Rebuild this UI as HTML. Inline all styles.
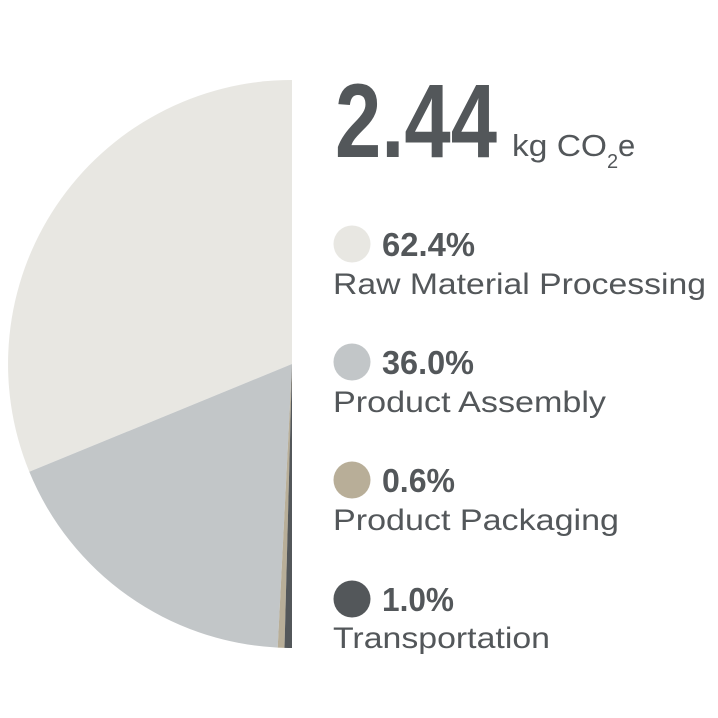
<!DOCTYPE html>
<html><head><meta charset="utf-8"><style>
html,body{margin:0;padding:0;background:#fff;}
svg{display:block;}
</style></head><body>
<svg width="718" height="718" viewBox="0 0 718 718" xmlns="http://www.w3.org/2000/svg" font-family="Liberation Sans, sans-serif" fill="#53575a">
<rect width="718" height="718" fill="#fff"/>
<path d="M292,364 L292,80 A284,284 0 0 0 29.3,471.8 Z" fill="#e8e7e2"/>
<path d="M292,364 L29.3,471.8 A284,284 0 0 0 277.7,647.6 Z" fill="#c2c6c8"/>
<path d="M292,364 L277.7,647.6 A284,284 0 0 0 284.5,647.9 Z" fill="#b8ae98"/>
<path d="M292,364 L284.5,647.9 A284,284 0 0 0 292,648 Z" fill="#53575a"/>
<text x="335" y="157" font-size="105" font-weight="bold" textLength="162" lengthAdjust="spacingAndGlyphs">2.44</text>
<text x="512" y="156" font-size="31" textLength="95" lengthAdjust="spacingAndGlyphs">kg CO</text>
<text x="607" y="168" font-size="20">2</text>
<text x="618" y="156" font-size="31">e</text>
<g>
<circle cx="352" cy="244" r="18.5" fill="#e8e7e2"/>
<text x="382" y="256" font-size="33" font-weight="bold" textLength="93" lengthAdjust="spacingAndGlyphs">62.4%</text>
<text x="333" y="294" font-size="30" textLength="373" lengthAdjust="spacingAndGlyphs">Raw Material Processing</text>
<circle cx="352" cy="362" r="18.5" fill="#c2c6c8"/>
<text x="382" y="374" font-size="33" font-weight="bold" textLength="92" lengthAdjust="spacingAndGlyphs">36.0%</text>
<text x="333" y="412" font-size="30" textLength="273" lengthAdjust="spacingAndGlyphs">Product Assembly</text>
<circle cx="352" cy="480" r="18.5" fill="#b8ae98"/>
<text x="382" y="492" font-size="33" font-weight="bold" textLength="73" lengthAdjust="spacingAndGlyphs">0.6%</text>
<text x="333" y="530" font-size="30" textLength="286" lengthAdjust="spacingAndGlyphs">Product Packaging</text>
<circle cx="352" cy="599" r="18.5" fill="#53575a"/>
<text x="382" y="611" font-size="33" font-weight="bold" textLength="72" lengthAdjust="spacingAndGlyphs">1.0%</text>
<text x="333" y="648" font-size="30" textLength="217" lengthAdjust="spacingAndGlyphs">Transportation</text>
</g>
</svg>
</body></html>
